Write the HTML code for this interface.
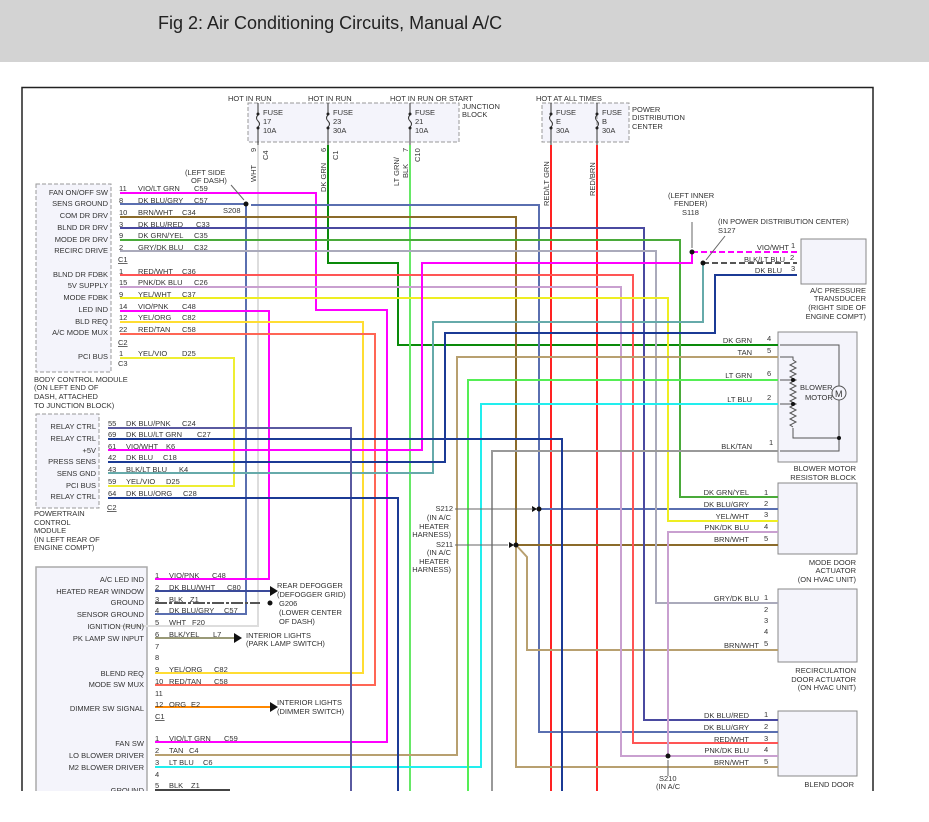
<!DOCTYPE html>
<html><head><meta charset="utf-8"><style>
body{margin:0;background:#fff;}
svg{display:block;font-family:"Liberation Sans",sans-serif;}
text{font-size:7.5px;fill:#333;}
</style></head><body>
<svg width="929" height="822" viewBox="0 0 929 822" xmlns="http://www.w3.org/2000/svg">
<rect x="0" y="0" width="929" height="62" fill="#d3d3d3"/>
<text x="158" y="29" style="font-size:18px;fill:#222">Fig 2: Air Conditioning Circuits, Manual A/C</text>
<defs><clipPath id="c"><rect x="0" y="86" width="929" height="705"/></clipPath></defs>
<g clip-path="url(#c)">
<rect x="22" y="87.5" width="851" height="720" fill="#fff" stroke="#222" stroke-width="1.5"/>

<!-- fuse boxes -->
<rect x="248" y="103" width="211" height="39" fill="#f4f4fb" stroke="#999" stroke-dasharray="4,2"/>
<rect x="542" y="103" width="87" height="39" fill="#f4f4fb" stroke="#999" stroke-dasharray="4,2"/>
<line x1="597" y1="103" x2="597" y2="142" stroke="#999" stroke-dasharray="4,2"/>
<text x="228" y="101">HOT IN RUN</text><text x="308" y="101">HOT IN RUN</text><text x="390" y="101">HOT IN RUN OR START</text>
<text x="462" y="109">JUNCTION</text><text x="462" y="117">BLOCK</text>
<text x="536" y="101">HOT AT ALL TIMES</text>
<text x="632" y="112">POWER</text><text x="632" y="120">DISTRIBUTION</text><text x="632" y="129">CENTER</text>
<g stroke="#333" fill="none">
<path d="M258 103v10 M258 129v16 M328 103v10 M328 129v16 M410 103v10 M410 129v16 M551 103v10 M551 129v16 M597 103v10 M597 129v16"/>
<path d="M258 115q-3 3 0 6q3 3 0 6 M328 115q-3 3 0 6q3 3 0 6 M410 115q-3 3 0 6q3 3 0 6 M551 115q-3 3 0 6q3 3 0 6 M597 115q-3 3 0 6q3 3 0 6"/>
</g>
<g fill="#222"><circle cx="258" cy="114" r="1.5"/><circle cx="258" cy="128" r="1.5"/><circle cx="328" cy="114" r="1.5"/><circle cx="328" cy="128" r="1.5"/><circle cx="410" cy="114" r="1.5"/><circle cx="410" cy="128" r="1.5"/><circle cx="551" cy="114" r="1.5"/><circle cx="551" cy="128" r="1.5"/><circle cx="597" cy="114" r="1.5"/><circle cx="597" cy="128" r="1.5"/></g>
<text x="263" y="115">FUSE</text><text x="263" y="124">17</text><text x="263" y="133">10A</text>
<text x="333" y="115">FUSE</text><text x="333" y="124">23</text><text x="333" y="133">30A</text>
<text x="415" y="115">FUSE</text><text x="415" y="124">21</text><text x="415" y="133">10A</text>
<text x="556" y="115">FUSE</text><text x="556" y="124">E</text><text x="556" y="133">30A</text>
<text x="602" y="115">FUSE</text><text x="602" y="124">B</text><text x="602" y="133">30A</text>
<g transform="rotate(-90)">
<text x="-152" y="256">9</text><text x="-160" y="268">C4</text><text x="-182" y="256">WHT</text>
<text x="-152" y="326">6</text><text x="-160" y="338">C1</text><text x="-192" y="326">DK GRN</text>
<text x="-152" y="408">7</text><text x="-162" y="420">C10</text><text x="-186" y="399">LT GRN/</text><text x="-178" y="408">BLK</text>
<text x="-206" y="549">RED/LT GRN</text><text x="-196" y="595">RED/BRN</text>
</g>

<!-- modules -->
<rect x="36" y="184" width="75" height="188" fill="#f4f4fb" stroke="#999" stroke-dasharray="4,2"/>
<rect x="36" y="414" width="63" height="94" fill="#f4f4fb" stroke="#999" stroke-dasharray="4,2"/>
<rect x="36" y="567" width="111" height="260" fill="#f4f4fb" stroke="#aaa" stroke-width="1.5"/>
<rect x="801" y="239" width="65" height="45" fill="#f4f4fb" stroke="#888"/>
<rect x="778" y="332" width="79" height="130" fill="#f4f4fb" stroke="#888"/>
<rect x="778" y="483" width="79" height="71" fill="#f4f4fb" stroke="#888"/>
<rect x="778" y="589" width="79" height="73" fill="#f4f4fb" stroke="#888"/>
<rect x="778" y="711" width="79" height="65" fill="#f4f4fb" stroke="#888"/>

<!-- blower internals -->
<g stroke="#555" fill="none" stroke-width="1">
<path d="M780 345H839V386 M839 400V438H793V428 M780 357H793V360 M793 360l3 2l-6 3l6 3l-6 3l6 3l-6 3l6 3l-6 3l6 3l-6 3l6 3l-6 3l6 3l-6 3l6 3l-6 3l6 3l-6 3l6 3l-6 3l6 3l-6 3l3 2 M780 380H793 M780 404H793 M780 451H839V438"/>
<circle cx="839" cy="393" r="7"/>
</g>
<g fill="#111"><circle cx="793" cy="380" r="2"/><circle cx="793" cy="404" r="2"/><circle cx="839" cy="438" r="2"/></g>
<text x="835" y="397" style="font-size:9px">M</text>
<text x="800" y="390">BLOWER</text><text x="805" y="400">MOTOR</text>

<!-- wires -->
<g fill="none" stroke-width="2">
<path d="M258 145V626H120" stroke="#ddd"/>
<path d="M328 145V263H398V345H778" stroke="#0a8a0a"/>
<path d="M410 145V800" stroke="#66e866"/>
<path d="M551 145V800" stroke="#f22"/>
<path d="M597 145V800" stroke="#f22"/>
<path d="M120 193H316V310H387V742H155" stroke="#f0f"/>
<path d="M120 204H246V614H155 M251 205H539V732H778 M539 509H778" stroke="#5a6fb0"/>
<path d="M120 217H516V545H778" stroke="#8b6b2a"/>
<path d="M516 545V767H778 M516 545L527 557V650H778" stroke="#b8a070"/>
<path d="M120 228H644V720H778" stroke="#4a4aa0"/>
<path d="M120 240H680V497H778" stroke="#4aaa3a"/>
<path d="M120 251H656V603H778" stroke="#aab"/>
<path d="M120 275H633V743H778" stroke="#f55"/>
<path d="M120 287H621V756H778 M668 756V532H778" stroke="#c9a0d0"/>
<path d="M120 298H668V521H778" stroke="#ee2"/>
<path d="M120 311H269V579H155" stroke="#f0f"/>
<path d="M120 322H363V673H155" stroke="#fd3"/>
<path d="M120 334H375V685H155" stroke="#f65"/>
<path d="M120 358H234V486H108" stroke="#ee3"/>
<path d="M692 252V263H422V450H108" stroke="#f0f"/>
<path d="M703 263V322H433V473H108" stroke="#6aa"/>
<path d="M797 275H715V333H445V462H108" stroke="#1b3a95"/>
<path d="M155 755H457V357H778" stroke="#b8a070"/>
<path d="M155 767H481V404H778" stroke="#2ee"/>
<path d="M778 380H468V800" stroke="#5e5"/>
<path d="M778 451H492V800" stroke="#999"/>
<path d="M108 428H351V800" stroke="#5a5aa0"/>
<path d="M108 439H562V800" stroke="#1b3a95"/>
<path d="M108 498H398V800" stroke="#1b3a95"/>
<path d="M155 591H270" stroke="#3a4a9a"/>
<path d="M155 638H235" stroke="#997"/>
<path d="M155 707H270" stroke="#f80"/>
<path d="M155 790H230" stroke="#444"/>
</g>
<path d="M155 603H260" stroke="#555" stroke-width="2" stroke-dasharray="12,2,3,2" fill="none"/>
<path d="M692 252H797" stroke="#f0f" stroke-width="2" stroke-dasharray="6,3" fill="none"/>
<path d="M703 263H797" stroke="#555" stroke-width="2" stroke-dasharray="6,3" fill="none"/>
<g fill="#111">
<circle cx="246" cy="204" r="2.5"/><circle cx="692" cy="252" r="2.5"/><circle cx="703" cy="263" r="2.5"/>
<circle cx="539" cy="509" r="2.5"/><circle cx="516" cy="545" r="2.5"/><circle cx="668" cy="756" r="2.5"/><circle cx="270" cy="603" r="2.5"/>
<path d="M270 586l8 5l-8 5z M234 633l8 5l-8 5z M270 702l8 5l-8 5z M532 506l5 3l-5 3z M509 542l5 3l-5 3z"/>
</g>
<g stroke="#666" fill="none"><path d="M455 509H533 M455 545H508 M668 776V760 M692 222V248 M725 236L706 260 M231 185L244 200"/></g>

<!-- BCM labels -->
<g text-anchor="end">
<text x="108" y="195">FAN ON/OFF SW</text><text x="108" y="206">SENS GROUND</text><text x="108" y="218">COM DR DRV</text><text x="108" y="230">BLND DR DRV</text><text x="108" y="242">MODE DR DRV</text><text x="108" y="253">RECIRC DRIVE</text>
<text x="108" y="277">BLND DR FDBK</text><text x="108" y="288">5V SUPPLY</text><text x="108" y="300">MODE FDBK</text><text x="108" y="312">LED IND</text><text x="108" y="324">BLD REQ</text><text x="108" y="335">A/C MODE MUX</text><text x="108" y="359">PCI BUS</text>
<text x="96" y="429">RELAY CTRL</text><text x="96" y="441">RELAY CTRL</text><text x="96" y="453">+5V</text><text x="96" y="464">PRESS SENS</text><text x="96" y="476">SENS GND</text><text x="96" y="488">PCI BUS</text><text x="96" y="499">RELAY CTRL</text>
<text x="144" y="582">A/C LED IND</text><text x="144" y="594">HEATED REAR WINDOW</text><text x="144" y="605">GROUND</text><text x="144" y="617">SENSOR GROUND</text><text x="144" y="629">IGNITION (RUN)</text><text x="144" y="641">PK LAMP SW INPUT</text>
<text x="144" y="676">BLEND REQ</text><text x="144" y="687">MODE SW MUX</text><text x="144" y="711">DIMMER SW SIGNAL</text>
<text x="144" y="746">FAN SW</text><text x="144" y="758">LO BLOWER DRIVER</text><text x="144" y="770">M2 BLOWER DRIVER</text><text x="144" y="793">GROUND</text>
<text x="752" y="343">DK GRN</text><text x="752" y="355">TAN</text><text x="752" y="378">LT GRN</text><text x="752" y="402">LT BLU</text><text x="752" y="449">BLK/TAN</text>
<text x="789" y="250">VIO/WHT</text><text x="785" y="262">BLK/LT BLU</text><text x="782" y="273">DK BLU</text>
<text x="749" y="495">DK GRN/YEL</text><text x="749" y="507">DK BLU/GRY</text><text x="749" y="519">YEL/WHT</text><text x="749" y="530">PNK/DK BLU</text><text x="749" y="542">BRN/WHT</text>
<text x="759" y="601">GRY/DK BLU</text><text x="759" y="648">BRN/WHT</text>
<text x="749" y="718">DK BLU/RED</text><text x="749" y="730">DK BLU/GRY</text><text x="749" y="742">RED/WHT</text><text x="749" y="753">PNK/DK BLU</text><text x="749" y="765">BRN/WHT</text>
<text x="453" y="511">S212</text><text x="451" y="520">(IN A/C</text><text x="449" y="529">HEATER</text><text x="451" y="537">HARNESS)</text>
<text x="453" y="547">S211</text><text x="451" y="555">(IN A/C</text><text x="449" y="564">HEATER</text><text x="451" y="572">HARNESS)</text>
<text x="866" y="293">A/C PRESSURE</text><text x="866" y="301">TRANSDUCER</text><text x="866" y="310">(RIGHT SIDE OF</text><text x="866" y="319">ENGINE COMPT)</text>
<text x="856" y="471">BLOWER MOTOR</text><text x="856" y="480">RESISTOR BLOCK</text>
<text x="856" y="565">MODE DOOR</text><text x="856" y="573">ACTUATOR</text><text x="856" y="582">(ON HVAC UNIT)</text>
<text x="856" y="673">RECIRCULATION</text><text x="856" y="682">DOOR ACTUATOR</text><text x="856" y="690">(ON HVAC UNIT)</text>
<text x="854" y="787">BLEND DOOR</text>
</g>
<g>
<text x="119" y="191">11</text><text x="138" y="191">VIO/LT GRN</text><text x="194" y="191">C59</text>
<text x="119" y="203">8</text><text x="138" y="203">DK BLU/GRY</text><text x="194" y="203">C57</text>
<text x="119" y="215">10</text><text x="138" y="215">BRN/WHT</text><text x="182" y="215">C34</text>
<text x="119" y="227">3</text><text x="138" y="227">DK BLU/RED</text><text x="196" y="227">C33</text>
<text x="119" y="238">9</text><text x="138" y="238">DK GRN/YEL</text><text x="194" y="238">C35</text>
<text x="119" y="250">2</text><text x="138" y="250">GRY/DK BLU</text><text x="194" y="250">C32</text>
<text x="118" y="262" text-decoration="underline">C1</text>
<text x="119" y="274">1</text><text x="138" y="274">RED/WHT</text><text x="182" y="274">C36</text>
<text x="119" y="285">15</text><text x="138" y="285">PNK/DK BLU</text><text x="194" y="285">C26</text>
<text x="119" y="297">9</text><text x="138" y="297">YEL/WHT</text><text x="182" y="297">C37</text>
<text x="119" y="309">14</text><text x="138" y="309">VIO/PNK</text><text x="182" y="309">C48</text>
<text x="119" y="320">12</text><text x="138" y="320">YEL/ORG</text><text x="182" y="320">C82</text>
<text x="119" y="332">22</text><text x="138" y="332">RED/TAN</text><text x="182" y="332">C58</text>
<text x="118" y="345" text-decoration="underline">C2</text>
<text x="119" y="356">1</text><text x="138" y="356">YEL/VIO</text><text x="182" y="356">D25</text>
<text x="118" y="366">C3</text>
<text x="34" y="382">BODY CONTROL MODULE</text><text x="34" y="390">(ON LEFT END OF</text><text x="34" y="399">DASH, ATTACHED</text><text x="34" y="408">TO JUNCTION BLOCK)</text>
<text x="185" y="175">(LEFT SIDE</text><text x="191" y="183">OF DASH)</text><text x="223" y="213">S208</text>
<text x="108" y="426">55</text><text x="126" y="426">DK BLU/PNK</text><text x="182" y="426">C24</text>
<text x="108" y="437">69</text><text x="126" y="437">DK BLU/LT GRN</text><text x="197" y="437">C27</text>
<text x="108" y="449">61</text><text x="126" y="449">VIO/WHT</text><text x="166" y="449">K6</text>
<text x="108" y="460">42</text><text x="126" y="460">DK BLU</text><text x="163" y="460">C18</text>
<text x="108" y="472">43</text><text x="126" y="472">BLK/LT BLU</text><text x="179" y="472">K4</text>
<text x="108" y="484">59</text><text x="126" y="484">YEL/VIO</text><text x="166" y="484">D25</text>
<text x="108" y="496">64</text><text x="126" y="496">DK BLU/ORG</text><text x="183" y="496">C28</text>
<text x="107" y="510" text-decoration="underline">C2</text>
<text x="34" y="516">POWERTRAIN</text><text x="34" y="525">CONTROL</text><text x="34" y="533">MODULE</text><text x="34" y="542">(IN LEFT REAR OF</text><text x="34" y="550">ENGINE COMPT)</text>
<text x="155" y="578">1</text><text x="169" y="578">VIO/PNK</text><text x="212" y="578">C48</text>
<text x="155" y="590">2</text><text x="169" y="590">DK BLU/WHT</text><text x="227" y="590">C80</text>
<text x="155" y="602">3</text><text x="169" y="602">BLK</text><text x="190" y="602">Z1</text>
<text x="155" y="613">4</text><text x="169" y="613">DK BLU/GRY</text><text x="224" y="613">C57</text>
<text x="155" y="625">5</text><text x="169" y="625">WHT</text><text x="192" y="625">F20</text>
<text x="155" y="637">6</text><text x="169" y="637">BLK/YEL</text><text x="213" y="637">L7</text>
<text x="155" y="649">7</text><text x="155" y="660">8</text>
<text x="155" y="672">9</text><text x="169" y="672">YEL/ORG</text><text x="214" y="672">C82</text>
<text x="155" y="684">10</text><text x="169" y="684">RED/TAN</text><text x="214" y="684">C58</text>
<text x="155" y="696">11</text>
<text x="155" y="707">12</text><text x="169" y="707">ORG</text><text x="191" y="707">E2</text>
<text x="155" y="719" text-decoration="underline">C1</text>
<text x="155" y="741">1</text><text x="169" y="741">VIO/LT GRN</text><text x="224" y="741">C59</text>
<text x="155" y="753">2</text><text x="169" y="753">TAN</text><text x="189" y="753">C4</text>
<text x="155" y="765">3</text><text x="169" y="765">LT BLU</text><text x="203" y="765">C6</text>
<text x="155" y="777">4</text>
<text x="155" y="788">5</text><text x="169" y="788">BLK</text><text x="191" y="788">Z1</text>
<text x="277" y="588">REAR DEFOGGER</text><text x="277" y="597">(DEFOGGER GRID)</text>
<text x="279" y="606">G206</text><text x="279" y="615">(LOWER CENTER</text><text x="279" y="624">OF DASH)</text>
<text x="246" y="638">INTERIOR LIGHTS</text><text x="246" y="646">(PARK LAMP SWITCH)</text>
<text x="277" y="705">INTERIOR LIGHTS</text><text x="277" y="714">(DIMMER SWITCH)</text>
<text x="668" y="198">(LEFT INNER</text><text x="674" y="206">FENDER)</text><text x="682" y="215">S118</text>
<text x="718" y="224">(IN POWER DISTRIBUTION CENTER)</text><text x="718" y="233">S127</text>
<text x="791" y="248">1</text><text x="790" y="260">2</text><text x="791" y="271">3</text>
<text x="767" y="341">4</text><text x="767" y="353">5</text><text x="767" y="376">6</text><text x="767" y="400">2</text><text x="769" y="445">1</text>
<text x="764" y="495">1</text><text x="764" y="506">2</text><text x="764" y="517">3</text><text x="764" y="529">4</text><text x="764" y="541">5</text>
<text x="764" y="600">1</text><text x="764" y="612">2</text><text x="764" y="623">3</text><text x="764" y="634">4</text><text x="764" y="646">5</text>
<text x="764" y="717">1</text><text x="764" y="729">2</text><text x="764" y="741">3</text><text x="764" y="752">4</text><text x="764" y="764">5</text>
<text x="659" y="781">S210</text><text x="656" y="789">(IN A/C</text>
</g>
</g>
</svg>
</body></html>
